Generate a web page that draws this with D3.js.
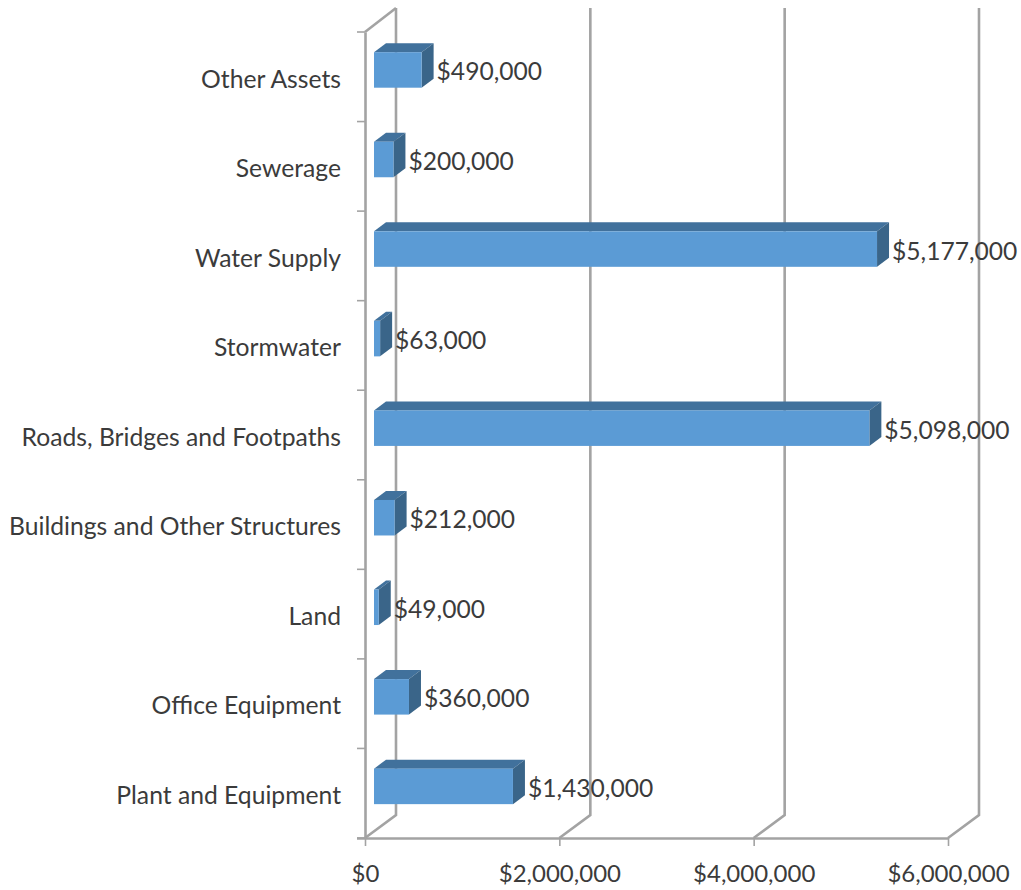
<!DOCTYPE html>
<html>
<head>
<meta charset="utf-8">
<title>Asset values by class</title>
<script src="https://cdn.jsdelivr.net/npm/d3@7/dist/d3.min.js"></script>
<style>
  html, body { margin: 0; padding: 0; background: #fff; }
  svg { display: block; }
  text { font-family: Lato, "Open Sans", sans-serif; fill: #3b3b3b; }
</style>
</head>
<body>
<svg id="chart" width="1021" height="890"></svg>
<script>
// Categories run top to bottom as they appear on the vertical axis
const categories = ["Other Assets", "Sewerage", "Water Supply", "Stormwater",
  "Roads, Bridges and Footpaths", "Buildings and Other Structures", "Land",
  "Office Equipment", "Plant and Equipment"];
const values = [490000, 200000, 5177000, 63000, 5098000, 212000, 49000, 360000, 1430000];
const xTicks = [0, 2000000, 4000000, 6000000];

const faceFill = "#5b9bd5";
const topFill = "#41719c";
const sideFill = "#3a6589";
const axisColor = "#a3a3a3";

const plot = { left: 365, right: 948, top: 32, bottom: 838 };
const depth = { x: 31, y: 23 };        // floor-to-back-wall shift of the 3D box
const barDepth = { x: 12, y: 9 };      // extrusion of each bar
const barInset = 9;                    // bars sit slightly forward of the axis plane
const barTop = 20.2, barHeight = 35.5; // position inside each category band

const x = d3.scaleLinear().domain([0, 6000000]).range([plot.left, plot.right]);
const y = d3.scaleBand().domain(categories).range([plot.top, plot.bottom]);
const money = d => "$" + d3.format(",")(d);

const svg = d3.select("#chart");

// Back-wall gridlines with the diagonal run down to the floor edge
const grid = svg.append("g")
  .attr("fill", "none")
  .attr("stroke", axisColor)
  .attr("stroke-width", 2.6);
grid.selectAll("path").data(xTicks).join("path")
  .attr("d", d => d3.line()([
    [x(d), plot.bottom],
    [x(d) + depth.x, plot.bottom - depth.y],
    [x(d) + depth.x, plot.top - depth.y - 1]
  ]));
grid.append("path").attr("d", d3.line()([
  [plot.left, plot.top],
  [plot.left + depth.x, plot.top - depth.y - 1]
]));

// Front axes
const xAxis = svg.append("g")
  .attr("transform", `translate(0,${plot.bottom})`)
  .call(d3.axisBottom(x).tickValues(xTicks).tickFormat(money).tickSize(8).tickPadding(19));
const yAxis = svg.append("g")
  .attr("transform", `translate(${plot.left},0)`)
  .call(d3.axisLeft(y).tickValues([]).tickSize(0));
[xAxis, yAxis].forEach(a => {
  a.selectAll("path.domain").attr("stroke", axisColor).attr("stroke-width", 2.6);
  a.selectAll(".tick line").attr("stroke", axisColor).attr("stroke-width", 1.6);
});
xAxis.select("path.domain").attr("d", `M${plot.left - 8},0.5H${plot.right}`);
xAxis.selectAll(".tick text").style("font-size", "24px").attr("fill", "#3b3b3b");

// Band-edge tick marks on the category axis
const bandEdges = categories.map(c => y(c)).concat([plot.bottom]);
svg.append("g").selectAll("line").data(bandEdges).join("line")
  .attr("x1", plot.left - 8).attr("x2", plot.left)
  .attr("y1", d => d).attr("y2", d => d)
  .attr("stroke", axisColor).attr("stroke-width", 1.6);

// Category labels
svg.append("g").selectAll("text").data(categories).join("text")
  .attr("x", 341)
  .attr("y", d => y(d) + y.bandwidth() / 2 + 4.5)
  .attr("text-anchor", "end")
  .attr("dominant-baseline", "middle")
  .style("font-size", "24.7px")
  .text(d => d);

// Extruded bars
const rows = categories.map((c, i) => ({ category: c, value: values[i] }));
const barX0 = plot.left + barInset;
const barX1 = d => x(d.value) + barInset;
const bars = svg.append("g").selectAll("g").data(rows).join("g")
  .attr("transform", d => `translate(0,${y(d.category) + barTop})`);

bars.append("path").attr("fill", topFill)
  .attr("d", d => d3.line()([
    [barX0, 0], [barX0 + barDepth.x, -barDepth.y],
    [barX1(d) + barDepth.x, -barDepth.y], [barX1(d), 0]
  ]) + "Z");
bars.append("path").attr("fill", sideFill)
  .attr("d", d => d3.line()([
    [barX1(d), 0], [barX1(d) + barDepth.x, -barDepth.y],
    [barX1(d) + barDepth.x, barHeight - barDepth.y], [barX1(d), barHeight]
  ]) + "Z");
bars.append("rect").attr("fill", faceFill)
  .attr("x", barX0).attr("y", 0)
  .attr("width", d => barX1(d) - barX0).attr("height", barHeight);

// Value labels
bars.append("text")
  .attr("x", d => barX1(d) + 15)
  .attr("y", 0)
  .attr("dy", 22)
  .attr("dominant-baseline", "middle")
  .style("font-size", "24.6px")
  .text(d => money(d.value));
</script>
</body>
</html>
